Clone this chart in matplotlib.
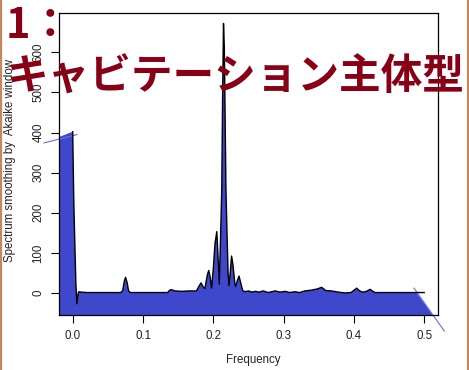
import matplotlib
matplotlib.use("Agg")
import matplotlib.pyplot as plt
from matplotlib.lines import Line2D
import numpy as np

# ---- data ----
freq = [0.0, 0.0015, 0.003, 0.0045, 0.0058, 0.0078, 0.009, 0.012, 0.02,
        0.068, 0.071, 0.0735, 0.0752, 0.0775, 0.0795, 0.082,
        0.135, 0.138, 0.141, 0.145, 0.155, 0.165, 0.176,
        0.18, 0.1825, 0.186, 0.188, 0.1915, 0.1935, 0.1955, 0.1975,
        0.2, 0.2025, 0.205, 0.2065, 0.2085, 0.2105, 0.212, 0.2132, 0.2145,
        0.2157, 0.2167, 0.218, 0.2195, 0.221, 0.2223, 0.224, 0.226, 0.228,
        0.2305, 0.2318, 0.234, 0.2366, 0.239, 0.2418,
        0.245, 0.25, 0.255, 0.26, 0.265, 0.271, 0.278, 0.288, 0.295, 0.302,
        0.309, 0.316, 0.323, 0.33, 0.34, 0.348, 0.354, 0.36, 0.368, 0.378,
        0.387, 0.396, 0.404, 0.408, 0.413, 0.418, 0.423, 0.427, 0.43, 0.5]
spec = [402, 232, 125, 25, -27, 0, 3, 2, 1,
        1, 5, 30, 39, 25, 5, 1,
        1, 7, 8, 5, 4, 5, 5,
        18, 25, 14, 11, 45, 56, 40, 12,
        60, 125, 153, 100, 22, 150, 257, 480, 672,
        610, 456, 257, 150, 50, 18, 50, 92, 70,
        25, 16, 30, 42, 25, 6,
        3, 5, 2, 4, 2, 5, 1, 5, 2, 4,
        1, 3, 1, 5, 7, 10, 14, 6, 5, 2,
        0, 1, 12, 5, 2, 4, 9, 4, 1, 1]

# hand-drawn overlay (fill edges that stick out of the plot)
left_edge_x = [-0.0408, 0.0061]
left_edge_y = [374, 395]
right_edge_x = [0.4855, 0.5286]
right_edge_y = [12, -95]
fill_end_x = 0.489

xticks = [0.0, 0.1, 0.2, 0.3, 0.4, 0.5]
yticks = [0, 100, 200, 300, 400, 500, 600]
title_line1 = "1："
title_line2 = "キャビテーション主体型"
xlabel = "Frequency"
ylabel = "Spectrum smoothing by  Akaike window"

FILL = "#3F48CC"
EDGE = "#6670DD"
TITLE_C = "#880015"
BORDER = "#C8865E"

plt.rcParams['font.family'] = ['Liberation Sans', 'DejaVu Sans']

W, H = 469, 370
fig = plt.figure(figsize=(W / 100, H / 100), dpi=100)
ax = fig.add_axes([59 / W, 1 - 315 / H, (437.7 - 59) / W, (315 - 13) / H])
ax.set_xlim(-0.0195, 0.5192)
ax.set_ylim(-55, 698)

# filled area under the curve, down past the bottom of the plot
fx = np.array(freq)
fy = np.array(spec, dtype=float)
mask = fx <= fill_end_x
fill_x = np.concatenate([[left_edge_x[0]], fx[mask], [fill_end_x, right_edge_x[1]]])
fill_y = np.concatenate([[left_edge_y[0]], fy[mask], [1.0, right_edge_y[1]]])
ax.fill_between(fill_x, fill_y, -300, color=FILL, lw=0, zorder=1)
ax.plot(freq, spec, color="black", lw=1.0, zorder=3)
ax.plot(left_edge_x, left_edge_y, color=EDGE, lw=0.8, clip_on=False, zorder=2)
ax.plot(right_edge_x, right_edge_y, color=EDGE, lw=0.8, clip_on=False, zorder=2)

for s in ax.spines.values():
    s.set_color("black")
    s.set_linewidth(0.9)
    s.set_zorder(4)
ax.set_xticks(xticks)
ax.set_xticklabels([f"{v:.1f}" for v in xticks])
ax.set_yticks(yticks)
ax.set_yticklabels([str(v) for v in yticks])
ax.tick_params(axis='both', direction='out', length=5.5, width=0.8,
               labelsize=8.3, labelcolor="#222222", color="black")
ax.tick_params(axis='x', pad=5)
ax.tick_params(axis='y', pad=5, labelrotation=90)
for lab in ax.get_yticklabels():
    lab.set_va('center')

fig.text(253 / W, 1 - 360 / H, xlabel, ha='center', va='center', fontsize=8.3, color="#222222")
fig.text(10 / W, 1 - 160 / H, ylabel, ha='center', va='center', rotation=90, fontsize=8.3, color="#222222")

cjk = ['Noto Sans CJK JP', 'DejaVu Sans']
fig.text(6 / W, 1 - 26 / H, title_line1, ha='left', va='center', fontsize=30,
         color=TITLE_C, family=cjk, fontweight='bold')
fig.text(6 / W, 1 - 78 / H, title_line2, ha='left', va='center', fontsize=30,
         color=TITLE_C, family=cjk, fontweight='bold')

fig.add_artist(Line2D([1.2 / W, 1.2 / W], [0, 1], color=BORDER, lw=1.6, transform=fig.transFigure))
fig.add_artist(Line2D([467.5 / W, 467.5 / W], [0, 1], color=BORDER, lw=1.6, transform=fig.transFigure))

fig.savefig("out.png", dpi=100)
